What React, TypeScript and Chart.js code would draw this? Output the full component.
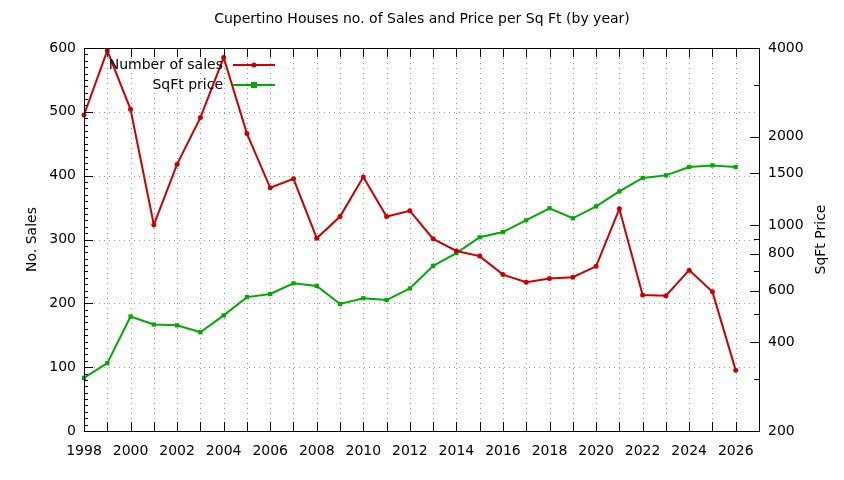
import React, { useEffect, useRef } from "react";
import { Chart, registerables } from "chart.js";

Chart.register(...registerables);

const years = [
  1998, 1999, 2000, 2001, 2002, 2003, 2004, 2005, 2006, 2007, 2008, 2009, 2010, 2011, 2012,
  2013, 2014, 2015, 2016, 2017, 2018, 2019, 2020, 2021, 2022, 2023, 2024, 2025, 2026,
];
const sales = [
  495, 596, 504, 323, 418, 491, 585, 466, 381, 395, 302, 336, 398, 336, 345, 301, 282, 274,
  245, 233, 239, 241, 258, 348, 213, 212, 252, 218, 95,
];
const sqftPrice = [
  303, 340, 490, 460, 457, 433, 494, 570, 584, 635, 622, 540, 565, 557, 610, 728, 804, 910,
  948, 1040, 1142, 1056, 1159, 1303, 1447, 1477, 1576, 1597, 1576,
];
const priceTicks = [200, 300, 400, 500, 600, 700, 800, 900, 1000, 1500, 2000, 3000, 4000];
const priceLabels = [200, 400, 600, 800, 1000, 1500, 2000, 4000];

const RED = "#cc0000";
const GREEN = "#00aa00";
const FONT = "DejaVu Sans";

// gnuplot look: dotted grid, framed plot, inward ticks, inside legend
const gnuplotLook = {
  id: "gnuplotLook",
  beforeDatasetsDraw(chart: any) {
    const { ctx, chartArea: a, scales } = chart;
    ctx.save();
    ctx.strokeStyle = "#999999";
    ctx.lineWidth = 1;
    ctx.setLineDash([1, 4]);
    for (let v = 100; v < 600; v += 100) {
      const y = Math.round(scales.y.getPixelForValue(v)) + 0.5;
      ctx.beginPath();
      ctx.moveTo(a.left, y);
      ctx.lineTo(a.right, y);
      ctx.stroke();
    }
    for (let yr = 1999; yr < 2027; yr++) {
      const x = Math.round(scales.x.getPixelForValue(yr)) + 0.5;
      ctx.beginPath();
      ctx.moveTo(x, a.top);
      ctx.lineTo(x, a.bottom);
      ctx.stroke();
    }
    ctx.restore();
  },
  afterDatasetsDraw(chart: any) {
    const { ctx, chartArea: a, scales } = chart;
    ctx.save();
    ctx.strokeStyle = "#000";
    ctx.lineWidth = 1;
    ctx.setLineDash([]);
    const line = (x1: number, y1: number, x2: number, y2: number) => {
      ctx.beginPath();
      ctx.moveTo(x1, y1);
      ctx.lineTo(x2, y2);
      ctx.stroke();
    };
    ctx.strokeRect(a.left + 0.5, a.top + 0.5, a.right - a.left, a.bottom - a.top);
    for (let v = 0; v <= 600; v += 10) {
      const y = Math.round(scales.y.getPixelForValue(v)) + 0.5;
      line(a.left, y, a.left + (v % 100 === 0 ? 9 : 4), y);
    }
    priceTicks.forEach((v) => {
      const y = Math.round(scales.y1.getPixelForValue(v)) + 0.5;
      line(a.right, y, a.right - (priceLabels.includes(v) ? 9 : 5), y);
    });
    for (let yr = 1998; yr <= 2027; yr++) {
      const x = Math.round(scales.x.getPixelForValue(yr)) + 0.5;
      line(x, a.bottom, x, a.bottom - 9);
      line(x, a.top, x, a.top + 9);
    }

    // legend
    ctx.font = `14px ${FONT}`;
    ctx.textAlign = "right";
    ctx.textBaseline = "middle";
    const rows = [
      { label: "Number of sales", color: RED, y: a.top + 17 },
      { label: "SqFt price", color: GREEN, y: a.top + 37 },
    ];
    rows.forEach((r, i) => {
      ctx.fillStyle = "#000";
      ctx.fillText(r.label, a.left + 139, r.y);
      ctx.strokeStyle = r.color;
      ctx.lineWidth = 2;
      line(a.left + 149, r.y, a.left + 191, r.y);
      const cx = a.left + 170;
      ctx.fillStyle = r.color;
      if (i === 0) {
        ctx.beginPath();
        ctx.arc(cx, r.y, 2.5, 0, Math.PI * 2);
        ctx.fill();
      } else {
        ctx.fillRect(cx - 3, r.y - 3, 6, 6);
      }
    });

    // title and axis titles
    ctx.fillStyle = "#000";
    ctx.textAlign = "center";
    ctx.fillText("Cupertino Houses no. of Sales and Price per Sq Ft (by year)", chart.width / 2, 19);
    const midY = (a.top + a.bottom) / 2;
    ctx.save();
    ctx.translate(32, midY);
    ctx.rotate(-Math.PI / 2);
    ctx.fillText("No. Sales", 0, 0);
    ctx.restore();
    ctx.save();
    ctx.translate(821, midY);
    ctx.rotate(-Math.PI / 2);
    ctx.fillText("SqFt Price", 0, 0);
    ctx.restore();
    ctx.restore();
  },
};

export default function App() {
  const canvasRef = useRef<HTMLCanvasElement | null>(null);

  useEffect(() => {
    document.body.style.margin = "0";
    if (!canvasRef.current) return;
    Chart.defaults.font.family = FONT;
    Chart.defaults.font.size = 14;
    Chart.defaults.color = "#000";

    const chart = new Chart(canvasRef.current, {
      type: "line",
      data: {
        datasets: [
          {
            label: "Number of sales",
            data: years.map((x, i) => ({ x, y: sales[i] })),
            yAxisID: "y",
            borderColor: RED,
            backgroundColor: RED,
            borderWidth: 2,
            pointRadius: 2.5,
            pointBorderWidth: 0,
            pointStyle: "circle",
            clip: false as any,
          },
          {
            label: "SqFt price",
            data: years.map((x, i) => ({ x, y: sqftPrice[i] })),
            yAxisID: "y1",
            borderColor: GREEN,
            backgroundColor: GREEN,
            borderWidth: 2,
            pointRadius: 3,
            pointBorderWidth: 0,
            pointStyle: "rect",
            clip: false as any,
          },
        ],
      },
      options: {
        responsive: false,
        animation: false,
        layout: { padding: { top: 48, left: 0, right: 0, bottom: 0 } },
        plugins: {
          legend: { display: false },
          title: { display: false },
          tooltip: { enabled: false },
        },
        scales: {
          x: {
            type: "linear",
            min: 1998,
            max: 2027,
            grid: { display: false, drawTicks: false },
            border: { display: false },
            ticks: {
              stepSize: 1,
              autoSkip: false,
              maxRotation: 0,
              padding: 12,
              callback: (v: any) => (Number(v) % 2 === 0 ? String(v) : ""),
            },
            afterFit: (s: any) => {
              s.height = 49;
            },
          },
          y: {
            position: "left",
            min: 0,
            max: 600,
            grid: { display: false, drawTicks: false },
            border: { display: false },
            ticks: { stepSize: 100, padding: 8 },
            afterFit: (s: any) => {
              s.width = 84;
            },
          },
          y1: {
            type: "logarithmic",
            position: "right",
            min: 200,
            max: 4000,
            grid: { display: false, drawTicks: false },
            border: { display: false },
            afterBuildTicks: (s: any) => {
              s.ticks = priceTicks.map((value) => ({ value }));
            },
            ticks: {
              padding: 9,
              autoSkip: false,
              callback: (v: any) => (priceLabels.includes(Number(v)) ? String(v) : ""),
            },
            afterFit: (s: any) => {
              s.width = 85;
            },
          },
        },
      },
      plugins: [gnuplotLook],
    });

    return () => chart.destroy();
  }, []);

  return <canvas ref={canvasRef} width={844} height={480} />;
}
